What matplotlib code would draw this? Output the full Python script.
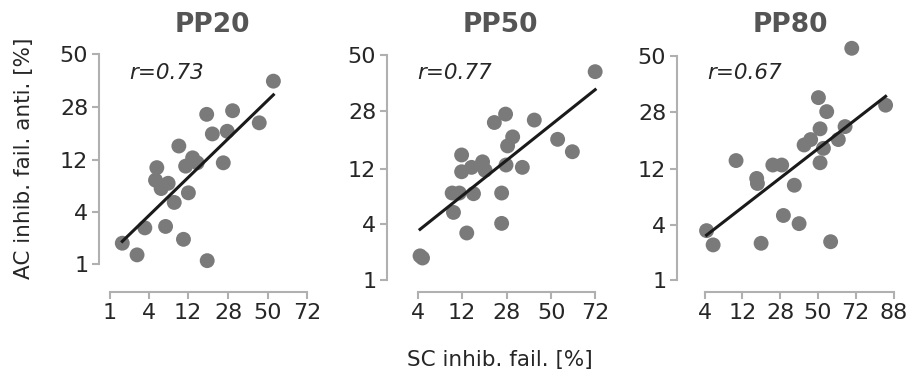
import numpy as np
import matplotlib
matplotlib.use('Agg')
import matplotlib.pyplot as plt
from statistics import NormalDist

titles = ['PP20', 'PP50', 'PP80']
r_labels = ['r=0.73', 'r=0.77', 'r=0.67']

# SC / AC inhibition failures in percent, one point per subject
sc_pp20 = [1.6, 2.7, 3.5, 5.1, 4.9, 5.8, 6.6, 7.1, 8.4, 9.5, 10.7, 11.3, 12.1, 13.4, 14.9,
           18.4, 18.6, 20.7, 25.6, 27.5, 30.2, 45.0, 53.3]
ac_pp20 = [1.8, 1.3, 2.7, 10.4, 8.1, 6.8, 2.8, 7.6, 5.0, 15.4, 2.0, 10.7, 6.2, 12.5, 11.4,
           25.2, 1.1, 18.8, 11.4, 19.6, 26.5, 22.3, 38.2]
sc_pp50 = [4.2, 4.5, 9.9, 9.6, 11.3, 11.9, 11.9, 13.3, 14.7, 15.3, 18.3, 19.2, 22.7, 25.7,
           25.7, 27.4, 27.6, 28.3, 30.6, 35.2, 41.2, 53.4, 61.0, 71.9]
ac_pp50 = [1.9, 1.8, 5.2, 7.7, 7.7, 15.1, 11.4, 3.3, 12.3, 7.6, 13.5, 11.7, 24.3, 4.1,
           7.7, 27.1, 12.8, 17.4, 19.9, 12.3, 25.1, 19.2, 15.9, 43.2]
sc_pp80 = [4.2, 5.2, 10.2, 17.1, 17.4, 18.9, 24.2, 28.7, 29.6, 35.7, 38.5, 41.5, 45.5, 50.3,
           51.3, 51.3, 53.4, 55.4, 57.8, 62.4, 66.3, 70.0, 85.3]
ac_pp80 = [3.5, 2.5, 13.9, 10.2, 9.3, 2.6, 12.9, 12.9, 4.9, 9.0, 4.1, 17.8, 19.3, 33.3,
           22.5, 13.4, 16.9, 28.2, 2.7, 19.3, 23.2, 53.2, 30.5]

sc_data = [sc_pp20, sc_pp50, sc_pp80]
ac_data = [ac_pp20, ac_pp50, ac_pp80]

x_ticks = [[1, 4, 12, 28, 50, 72], [4, 12, 28, 50, 72], [4, 12, 28, 50, 72, 88]]
y_ticks = [1, 4, 12, 28, 50]
x_lims = [(0.89, 76.6), (1.98, 76.1), (1.96, 88.4)]
y_lims = [(0.54, 56.2), (0.90, 56.2), (0.90, 56.6)]

# probit scale (percent <-> normal quantile)
_nd = NormalDist()
ppf = np.vectorize(lambda p: _nd.inv_cdf(min(max(p / 100.0, 1e-9), 1 - 1e-9)), otypes=[float])
cdf = np.vectorize(lambda z: 100.0 * _nd.cdf(z), otypes=[float])

W, H = 908, 371
fig = plt.figure(figsize=(W / 100, H / 100), dpi=100)

ax_left = [107, 395, 685]
ax_w, ax_top, ax_bot = 210, 40, 284

spine_col = '#b0b0b0'
text_col = '#262626'

for i in range(3):
    ax = fig.add_axes([ax_left[i] / W, 1 - ax_bot / H, ax_w / W, (ax_bot - ax_top) / H])
    ax.set_xscale('function', functions=(ppf, cdf))
    ax.set_yscale('function', functions=(ppf, cdf))

    x = np.array(sc_data[i])
    y = np.array(ac_data[i])
    ax.scatter(x, y, s=115, color='#7a7a7a', edgecolors='none', zorder=2, clip_on=False)

    # regression in probit space
    slope, icpt = np.polyfit(ppf(x), ppf(y), 1)
    xl = np.array([x.min(), x.max()])
    ax.plot(xl, cdf(slope * ppf(xl) + icpt), color='#1a1a1a', lw=2.2, zorder=3)

    ax.set_xlim(*x_lims[i])
    ax.set_ylim(*y_lims[i])
    ax.set_xticks(x_ticks[i])
    ax.set_xticklabels([str(t) for t in x_ticks[i]])
    ax.set_yticks(y_ticks)
    ax.set_yticklabels([str(t) for t in y_ticks])
    ax.minorticks_off()

    for s in ['top', 'right']:
        ax.spines[s].set_visible(False)
    ax.spines['left'].set_position(('outward', 5.5))
    ax.spines['bottom'].set_position(('outward', 5.5))
    ax.spines['left'].set_bounds(y_ticks[0], y_ticks[-1])
    ax.spines['bottom'].set_bounds(x_ticks[i][0], x_ticks[i][-1])
    for s in ['left', 'bottom']:
        ax.spines[s].set_color(spine_col)
        ax.spines[s].set_linewidth(1.5)
    ax.tick_params(labelsize=16, colors=spine_col, labelcolor=text_col,
                   length=5, width=1.5, pad=3)
    ax.patch.set_visible(False)

    ax.set_title(titles[i], fontsize=19, fontweight='bold', color='#555555', pad=6)
    ax.text(0.106, 0.865, r_labels[i], transform=ax.transAxes, fontsize=15.5,
            style='italic', color=text_col, va='center', ha='left')

fig.text(500 / W, 1 - 366 / H, 'SC inhib. fail. [%]', fontsize=15.5, color=text_col,
         ha='center', va='baseline')
fig.text(24 / W, 1 - 158 / H, 'AC inhib. fail. anti. [%]', fontsize=15.5, color=text_col,
         ha='center', va='center', rotation=90)

fig.savefig('out.png', dpi=100)
